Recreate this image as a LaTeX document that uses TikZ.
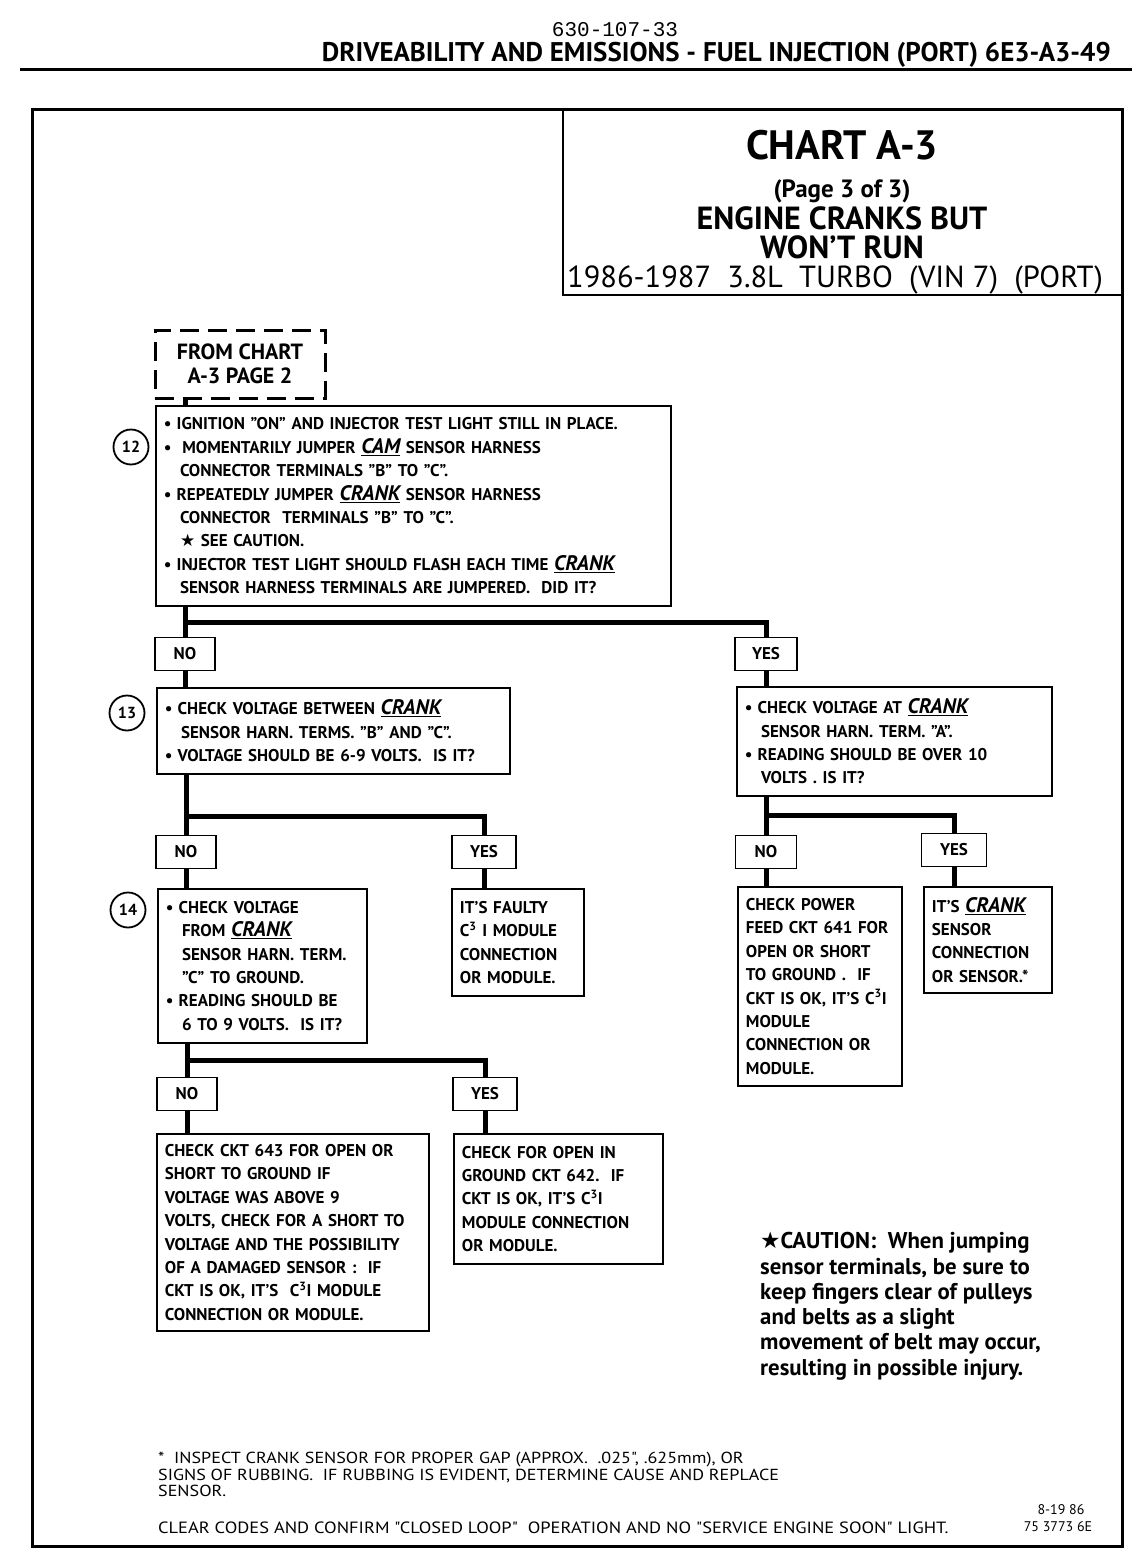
\documentclass[tikz,border=0pt]{standalone}
\usepackage{fontspec}
\setmainfont{PT Sans}
\newfontfamily\docnofont{Liberation Mono}
\newfontfamily\starfont{DejaVu Sans}
\newfontfamily\notefont[FakeStretch=1.13]{PT Sans}
\usetikzlibrary{calc}

\newcommand{\bul}{\textbullet\hspace{0.3em}}
\newcommand{\ind}{\hspace*{0.95em}}
\newcommand{\key}[1]{\underline{\fontsize{21}{23.4}\selectfont\itshape #1}}
\newcommand{\cthreei}{C\textsuperscript{3}I}
\newcommand{\cstar}{{\starfont ★}}

\tikzset{
  chart/.style={font=\bfseries\fontsize{17}{23.4}\selectfont},
  stepbox/.style={draw, line width=1.8pt, anchor=north west, align=left,
    inner xsep=8pt, inner ysep=0pt, chart},
  answer/.style={draw, line width=1.8pt, minimum width=60pt, minimum height=33pt,
    inner sep=0pt, chart},
  stepnum/.style={circle, draw, line width=1.8pt, minimum size=35pt, inner sep=0pt,
    font=\bfseries\fontsize{16}{16}\selectfont},
  link/.style={line width=5pt},
  frameline/.style={line width=3pt}
}

\begin{document}
\begin{tikzpicture}[x=1pt,y=-1pt]
    \useasboundingbox (0,0) rectangle (1136,1552);

    % page heading
    \node[anchor=base] (docno) at (615,37)
        {\docnofont\fontsize{21}{21}\selectfont 630-107-33};
    \node[anchor=base east, inner sep=0pt] (pagehead) at (1111,62)
        {\bfseries\fontsize{27}{27}\selectfont DRIVEABILITY AND EMISSIONS - FUEL INJECTION (PORT)\ 6E3-A3-49};
    \draw[frameline] (20,70) -- (1132,70);

    % frame and title block
    \draw[frameline] (32,110) rectangle (1122,1546);
    \draw[line width=2pt] (563,110) |- (1122,295);
    \node[anchor=base] (charttitle) at (842,160)
        {\bfseries\fontsize{41}{41}\selectfont CHART A-3};
    \node[anchor=base] (pagenote) at (842,197)
        {\bfseries\fontsize{25}{25}\selectfont (Page 3 of 3)};
    \node[anchor=base] (symptom1) at (842,229)
        {\bfseries\fontsize{32}{32}\selectfont ENGINE CRANKS BUT};
    \node[anchor=base] (symptom2) at (842,258)
        {\bfseries\fontsize{32}{32}\selectfont WON’T RUN};
    \node[anchor=base] (vehicle) at (835,287)
        {\fontsize{30.5}{30.5}\selectfont 1986-1987\ \ 3.8L\ \ TURBO\ \ (VIN 7)\ \ (PORT)};

    % branch levels
    \coordinate (j1) at (0,622);
    \coordinate (j2) at (0,816);
    \coordinate (j3) at (0,1060);
    \coordinate (j4) at (0,815);

    % steps
    \node[draw, dashed, dash pattern=on 19pt off 9pt, line width=3pt,
          minimum width=170pt, minimum height=68pt, align=center,
          font=\bfseries\fontsize{22}{24}\selectfont] (from) at (240,364)
        {FROM CHART\\A-3 PAGE 2};

    \node[stepbox, text width=499pt, minimum height=200pt] (q12) at (155,405)
        {\bul IGNITION "ON" AND INJECTOR TEST LIGHT STILL IN PLACE.\\
         \bul\ MOMENTARILY JUMPER \key{CAM} SENSOR HARNESS\\
         \ind CONNECTOR TERMINALS "B" TO "C".\\
         \bul REPEATEDLY JUMPER \key{CRANK} SENSOR HARNESS\\
         \ind CONNECTOR\ \ TERMINALS "B" TO "C".\\
         \ind\cstar\ SEE CAUTION.\\
         \bul INJECTOR TEST LIGHT SHOULD FLASH EACH TIME \key{CRANK}\\
         \ind SENSOR HARNESS TERMINALS ARE JUMPERED.\ \ DID IT?};
    \node[stepnum] (n12) at (131,447) {12};

    \node[answer] (no1) at (185,654) {NO};
    \node[answer, minimum width=62pt] (yes1) at (766,654) {YES};

    \node[stepbox, text width=337pt, minimum height=86pt] (q13) at (156,687)
        {\bul CHECK VOLTAGE BETWEEN \key{CRANK}\\
         \ind SENSOR HARN. TERMS. "B" AND "C".\\
         \bul VOLTAGE SHOULD BE 6-9 VOLTS.\ \ IS IT?};
    \node[stepnum] (n13) at (127,713) {13};

    \node[stepbox, text width=299pt, minimum height=109pt] (qa) at (736,686)
        {\bul CHECK VOLTAGE AT \key{CRANK}\\
         \ind SENSOR HARN. TERM. "A".\\
         \bul READING SHOULD BE OVER 10\\
         \ind VOLTS . IS IT?};

    \node[answer] (no2) at (186,852) {NO};
    \node[answer, minimum width=64pt] (yes2) at (484,852) {YES};
    \node[answer, minimum width=61pt] (no4) at (766,852) {NO};
    \node[answer, minimum width=65pt] (yes4) at (954,850) {YES};

    \node[stepbox, text width=193pt, minimum height=154pt] (q14) at (157,888)
        {\bul CHECK VOLTAGE\\
         \ind FROM \key{CRANK}\\
         \ind SENSOR HARN. TERM.\\
         \ind "C" TO GROUND.\\
         \bul READING SHOULD BE\\
         \ind 6 TO 9 VOLTS.\ \ IS IT?};
    \node[stepnum] (n14) at (128,910) {14};

    \node[stepbox, text width=116pt, minimum height=107pt] (faulty) at (451,888)
        {IT’S FAULTY\\
         C\textsuperscript{3} I MODULE\\
         CONNECTION\\
         OR MODULE.};

    \node[stepbox, text width=148pt, minimum height=199pt] (feed) at (737,886)
        {CHECK POWER\\
         FEED CKT 641 FOR\\
         OPEN OR SHORT\\
         TO GROUND .\ \ IF\\
         CKT IS OK, IT’S \cthreei\\
         MODULE\\
         CONNECTION OR\\
         MODULE.};

    \node[stepbox, text width=112pt, minimum height=106pt] (sensor) at (923,886)
        {IT’S \key{CRANK}\\
         SENSOR\\
         CONNECTION\\
         OR SENSOR.*};

    \node[answer] (no3) at (187,1094) {NO};
    \node[answer, minimum width=64pt] (yes3) at (485,1094) {YES};

    \node[stepbox, text width=256pt, minimum height=197pt] (ckt643) at (156,1133)
        {CHECK CKT 643 FOR OPEN OR\\
         SHORT TO GROUND IF\\
         VOLTAGE WAS ABOVE 9\\
         VOLTS, CHECK FOR A SHORT TO\\
         VOLTAGE AND THE POSSIBILITY\\
         OF A DAMAGED SENSOR :\ \ IF\\
         CKT IS OK, IT’S\ \ \cthreei\ MODULE\\
         CONNECTION OR MODULE.};

    \node[stepbox, text width=193pt, minimum height=130pt] (ckt642) at (453,1133)
        {CHECK FOR OPEN IN\\
         GROUND CKT 642.\ \ IF\\
         CKT IS OK, IT’S \cthreei\\
         MODULE CONNECTION\\
         OR MODULE.};

    % connectors
    \draw[link] (from.south -| no1) -- (q12.north -| no1);
    \draw[link] (q12.south -| no1) -- (no1);
    \draw[link] (j1 -| no1) -| (yes1);
    \draw[link] (no1) -- (no1 |- q13.north);
    \draw[link] (yes1) -- (yes1 |- qa.north);

    \draw[link] (q13.south -| no2) -- (no2);
    \draw[link] (j2 -| no2) -| (yes2);
    \draw[link] (no2) -- (no2 |- q14.north);
    \draw[link] (yes2) -- (yes2 |- faulty.north);

    \draw[link] (qa.south -| no4) -- (no4);
    \draw[link] (j4 -| no4) -| (yes4);
    \draw[link] (no4) -- (no4 |- feed.north);
    \draw[link] (yes4) -- (yes4 |- sensor.north);

    \draw[link] (q14.south -| no3) -- (no3);
    \draw[link] (j3 -| no3) -| (yes3);
    \draw[link] (no3) -- (no3 |- ckt643.north);
    \draw[link] (yes3) -- (yes3 |- ckt642.north);

    % caution and notes
    \node[anchor=north west, align=left, inner sep=0pt,
          font=\bfseries\fontsize{22.8}{25.3}\selectfont] (caution) at (760,1232)
        {\cstar CAUTION:\ \ When jumping\\
         sensor terminals, be sure to\\
         keep fingers clear of pulleys\\
         and belts as a slight\\
         movement of belt may occur,\\
         resulting in possible injury.};

    \node[anchor=north west, align=left, inner sep=0pt,
          font=\notefont\fontsize{16}{16.5}\selectfont] (gapnote) at (158,1452)
        {*\ \ INSPECT CRANK SENSOR FOR PROPER GAP (APPROX.\ \ .025", .625mm), OR\\
         SIGNS OF RUBBING.\ \ IF RUBBING IS EVIDENT, DETERMINE CAUSE AND REPLACE\\
         SENSOR.};
    \node[anchor=base west, inner sep=0pt, font=\notefont\fontsize{16.3}{16}\selectfont] (clearnote) at (158,1533)
        {CLEAR CODES AND CONFIRM "CLOSED LOOP"\ \ OPERATION AND NO "SERVICE ENGINE SOON" LIGHT.};
    \node[anchor=base, inner sep=0pt, font=\fontsize{14}{14}\selectfont] (date) at (1061,1514) {8-19 86};
    \node[anchor=base, inner sep=0pt, font=\fontsize{14}{14}\selectfont] (figno) at (1058,1531) {75 3773 6E};
\end{tikzpicture}
\end{document}
